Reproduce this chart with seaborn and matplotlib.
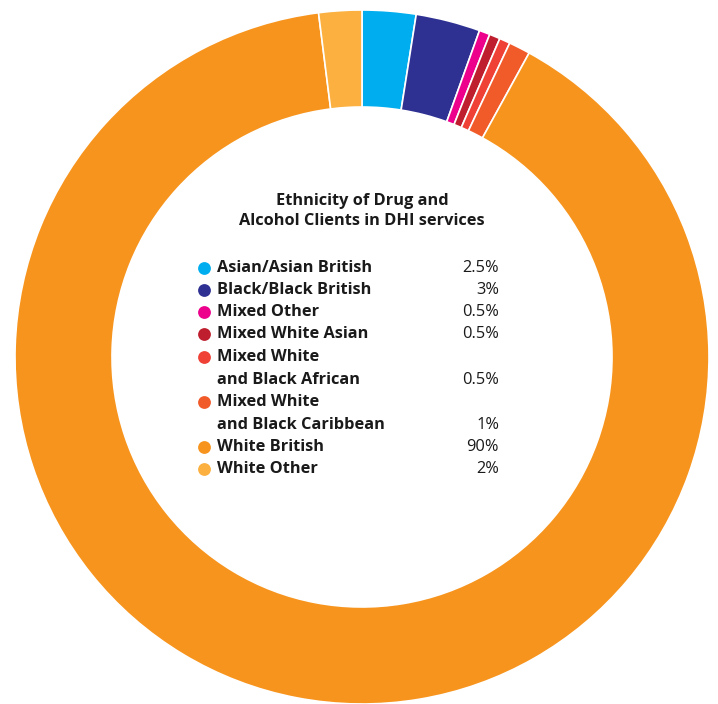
import matplotlib
matplotlib.use("Agg")
import matplotlib.pyplot as plt
import seaborn as sns

sns.set_theme(style="white")
plt.rcParams['font.family'] = ['Open Sans', 'DejaVu Sans']

categories = ["Asian/Asian British", "Black/Black British", "Mixed Other", "Mixed White Asian",
              "Mixed White\nand Black African", "Mixed White\nand Black Caribbean",
              "White British", "White Other"]
values = [2.5, 3, 0.5, 0.5, 0.5, 1, 90, 2]
value_labels = ["2.5%", "3%", "0.5%", "0.5%", "0.5%", "1%", "90%", "2%"]
colors = ["#00AEEF", "#2E3192", "#EC008C", "#BE1E2D", "#EF4136", "#F15A29", "#F7941D", "#FBB040"]
title = "Ethnicity of Drug and\nAlcohol Clients in DHI services"

W, H = 718, 704
fig = plt.figure(figsize=(W / 100, H / 100), dpi=100)
ax = fig.add_axes([0, 0, 1, 1])

cx, cy, R = 362, H - 357, 347
ax.pie(values, colors=colors, startangle=90, counterclock=False, center=(cx, cy), radius=R,
       wedgeprops=dict(width=97, edgecolor="white", linewidth=1.2), frame=True)
ax.set_xlim(0, W)
ax.set_ylim(0, H)
ax.set_aspect("equal")
ax.axis("off")

txt = "#1a1a1a"
fs = 11.8
ax.text(362, H - 211, title, ha="center", va="center", fontsize=fs, fontweight="bold",
        color=txt, linespacing=1.4)

rows = [268, 290, 312, 334, 357, 402, 447, 469]
for cat, lab, col, ry in zip(categories, value_labels, colors, rows):
    ax.scatter([204], [H - ry], s=85, color=col, linewidths=0, zorder=3)
    lines = cat.split("\n")
    for i, ln in enumerate(lines):
        ax.text(217, H - ry - 23 * i, ln, ha="left", va="center", fontsize=fs,
                fontweight="bold", color=txt)
    ax.text(499, H - ry - 23 * (len(lines) - 1), lab, ha="right", va="center",
            fontsize=fs, color=txt)

fig.savefig("out.png", dpi=100)
